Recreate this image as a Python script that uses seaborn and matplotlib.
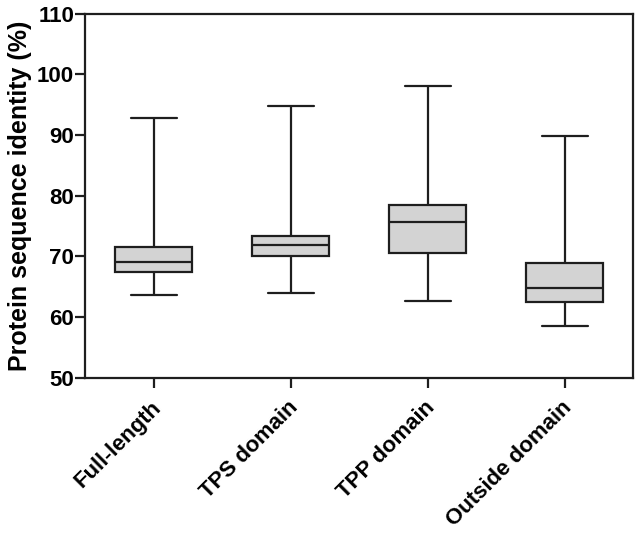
import numpy as np
import pandas as pd
import matplotlib
matplotlib.use('Agg')
import matplotlib.pyplot as plt
import matplotlib.transforms as mtransforms
import seaborn as sns

# ── Datos (mín, Q1, mediana, Q3, máx) ─────────────────────────────
categorias = ['Full-length', 'TPS domain', 'TPP domain', 'Outside domain']
minimos   = [63.6, 63.9, 62.7, 58.5]
q1        = [67.45, 70.0, 70.6, 62.5]
medianas  = [69.1, 71.85, 75.6, 64.8]
q3        = [71.6, 73.4, 78.4, 68.9]
maximos   = [92.8, 94.7, 98.1, 89.75]

# Con 5 puntos los cuartiles (interpolación lineal) caen justo en los valores
filas = []
for i, cat in enumerate(categorias):
    for v in (minimos[i], q1[i], medianas[i], q3[i], maximos[i]):
        filas.append({'grupo': cat, 'identidad': v})
df = pd.DataFrame(filas)

sns.set_style('ticks')
plt.rcParams['font.family'] = ['Liberation Sans', 'DejaVu Sans']
plt.rcParams['font.weight'] = 'bold'
plt.rcParams['text.color'] = 'black'
plt.rcParams['axes.labelcolor'] = 'black'
plt.rcParams['xtick.color'] = 'black'
plt.rcParams['ytick.color'] = 'black'

fig = plt.figure(figsize=(6.38, 5.34), dpi=100)
ax = fig.add_axes([0.1337, 0.2927, 0.859, 0.682])

lw = 1.6
sns.boxplot(data=df, x='grupo', y='identidad', order=categorias,
            whis=(0, 100), width=0.56, color='#d3d3d3', saturation=1,
            linewidth=lw, linecolor='#1e1e1e', showfliers=False, ax=ax)

# caps más cortos que la caja
for line in ax.lines:
    xd = np.asarray(line.get_xdata(), dtype=float)
    yd = np.asarray(line.get_ydata(), dtype=float)
    if len(xd) == 2 and yd[0] == yd[1]:
        c = xd.mean()
        if abs((xd[1] - xd[0])) < 0.5 and not np.isclose(yd[0], medianas).any():
            half = 0.17
            line.set_xdata([c - half, c + half])

ax.set_ylim(50, 110)
ax.set_xlim(-0.5, 3.5)
ax.set_yticks([50, 60, 70, 80, 90, 100, 110])
ax.set_xlabel('')
ax.set_ylabel('Protein sequence identity (%)', fontsize=18, fontweight='bold', labelpad=4)

for s in ax.spines.values():
    s.set_visible(True)
    s.set_linewidth(lw)
    s.set_color('#1e1e1e')

ax.tick_params(axis='both', direction='out', length=7, width=lw, color='#1e1e1e',
               labelsize=16, pad=1)
ax.tick_params(axis='x', pad=12)
desplaza = mtransforms.ScaledTranslation(4 / 100, 0, fig.dpi_scale_trans)
for lab in ax.get_xticklabels():
    lab.set_rotation(45)
    lab.set_ha('right')
    lab.set_va('center')
    lab.set_rotation_mode('anchor')
    lab.set_fontweight('bold')
    lab.set_transform(lab.get_transform() + desplaza)
plt.setp(ax.get_yticklabels(), fontweight='bold')

fig.savefig('out.png', dpi=100)
